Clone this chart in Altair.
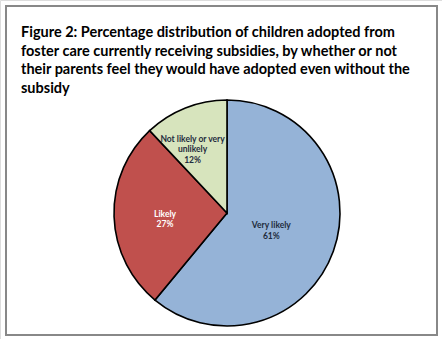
import altair as alt
import pandas as pd

categories = ["Very likely", "Likely", "Not likely or very unlikely"]
values = [61, 27, 12]
label_lines = [["Very likely", "61%"], ["Likely", "27%"], ["Not likely or very", "unlikely", "12%"]]
colors = ["#95B3D7", "#C0504D", "#D7E4BD"]
text_colors = ["#1F2D3D", "#FFFFFF", "#1F2D3D"]
title_lines = [
    "Figure 2: Percentage distribution of children adopted from",
    "foster care currently receiving subsidies, by whether or not",
    "their parents feel they would have adopted even without the",
    "subsidy",
]

df = pd.DataFrame({
    "category": categories,
    "value": values,
    "order": list(range(len(categories))),
    "label": ["\n".join(l) for l in label_lines],
})

CX, CY, R = 227, 213, 113

pie = alt.Chart(df).mark_arc(stroke="black", strokeWidth=1.6, outerRadius=R).encode(
    theta=alt.Theta("value:Q", stack=True),
    order=alt.Order("order:Q"),
    x=alt.value(CX),
    y=alt.value(CY),
    color=alt.Color("category:N", scale=alt.Scale(domain=categories, range=colors), legend=None),
)

label_cfg = {
    "Very likely": dict(r=45, dx=2, dy=-3),
    "Likely": dict(r=62, dx=0, dy=-1),
    "Not likely or very unlikely": dict(r=80, dx=-5, dy=0),
}

text_layers = []
for cat, tc in zip(categories, text_colors):
    cfg = label_cfg[cat]
    t = alt.Chart(df).transform_window(
        cum="sum(value)", sort=[alt.SortField("order")], frame=[None, 0]
    ).transform_joinaggregate(total="sum(value)").transform_calculate(
        mid="(datum.cum - datum.value / 2) / datum.total"
    ).transform_filter(alt.datum.category == cat).mark_text(
        font="Lato", fontWeight="bold", fontSize=8.5, lineBreak="\n", lineHeight=10.5,
        color=tc, dx=cfg["dx"], dy=cfg["dy"], align="center", baseline="middle"
    ).encode(
        theta=alt.Theta("mid:Q", scale=alt.Scale(domain=[0, 1]), stack=None),
        radius=alt.value(cfg["r"]),
        x=alt.value(CX),
        y=alt.value(CY),
        text="label:N",
    )
    text_layers.append(t)

title_df = pd.DataFrame({"t": ["\n".join(title_lines)]})
title = alt.Chart(title_df).mark_text(
    font="Lato", fontWeight="bold", fontSize=14.5, lineBreak="\n", lineHeight=18.5,
    align="left", baseline="alphabetic", color="black"
).encode(text="t:N", x=alt.value(21), y=alt.value(37))

frame = alt.Chart(pd.DataFrame({"a": [0]})).mark_rect(
    fill="white", stroke="#888888", strokeWidth=2
).encode(x=alt.value(6), x2=alt.value(437), y=alt.value(6), y2=alt.value(335))

chart = alt.layer(frame, pie, *text_layers, title).resolve_scale(theta="independent").properties(
    width=442, height=339, autosize=alt.AutoSizeParams(type="none"), padding=0
).configure_view(stroke=None).configure(background="white")

chart.save("out.html", embed_options={"renderer": "svg", "actions": False})
